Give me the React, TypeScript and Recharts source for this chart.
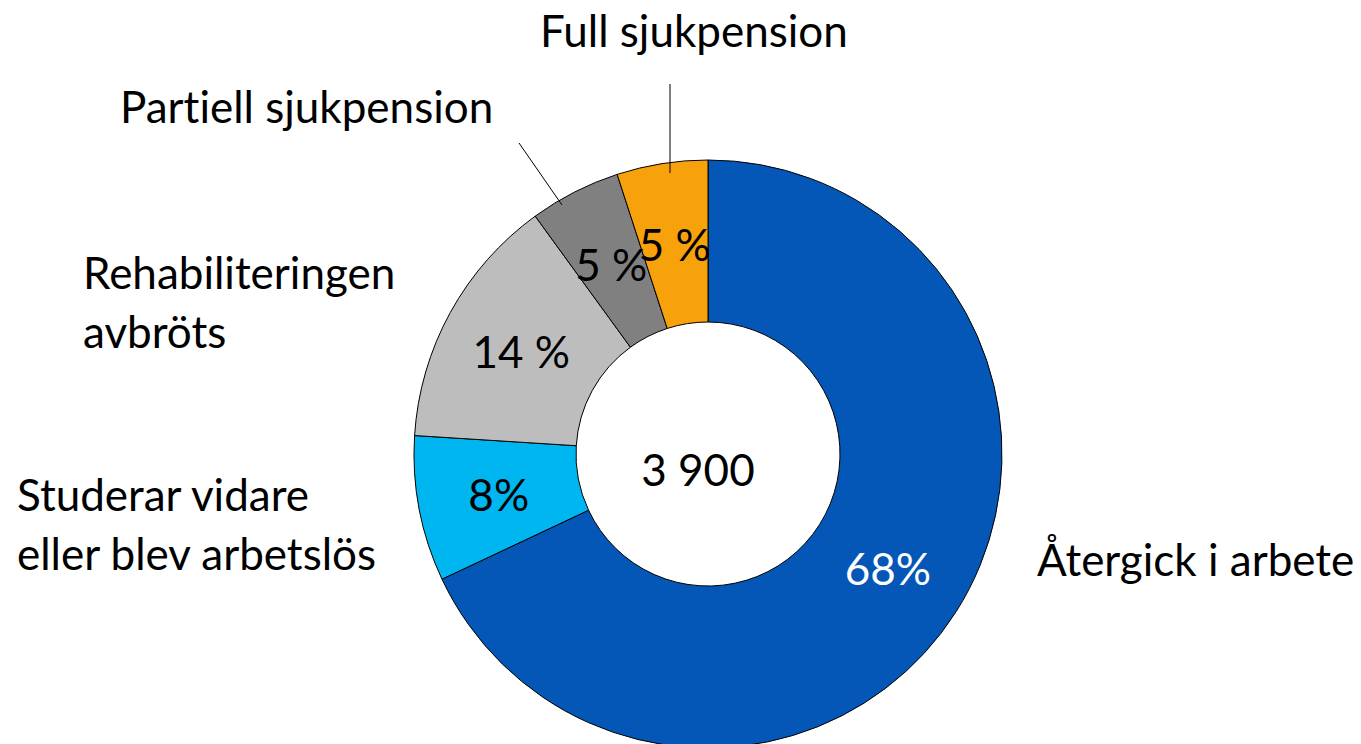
import { PieChart, Pie, Cell } from 'recharts';

// Outcome after rehabilitation, share of all (n = 3 900)
const categories = [
  'Återgick i arbete',
  'Studerar vidare eller blev arbetslös',
  'Rehabiliteringen avbröts',
  'Partiell sjukpension',
  'Full sjukpension',
];
const categoryLines = [
  ['Återgick i arbete'],
  ['Studerar vidare', 'eller blev arbetslös'],
  ['Rehabiliteringen', 'avbröts'],
  ['Partiell sjukpension'],
  ['Full sjukpension'],
];
const shares = [68, 8, 14, 5, 5];
const shareLabels = ['68%', '8%', '14 %', '5 %', '5 %'];
const totalLabel = '3 900';

const COLORS = ['#0457B6', '#00B6F1', '#BDBDBD', '#808080', '#F7A20B'];
const SHARE_TEXT = ['#ffffff', '#000000', '#000000', '#000000', '#000000'];
const FONT = 'Lato, "Open Sans", sans-serif';
const FONT_SIZE = 44;
const LINE_GAP = 59;
const textStyle = { fontVariantLigatures: 'none' as const };

// where each category name sits, relative to the pie centre (text start, first baseline)
const nameOffsets = [
  { dx: 329, dy: 122 },
  { dx: -691, dy: 57 },
  { dx: -625, dy: -165 },
  { dx: -588, dy: -331 },
  { dx: -168, dy: -407 },
];
// leader lines from name to slice, relative to centre
const leaders: ({ x1: number; y1: number; x2: number; y2: number } | null)[] = [
  null,
  null,
  null,
  { x1: -189, y1: -311, x2: -146, y2: -249 },
  { x1: -38, y1: -370, x2: -38, y2: -281 },
];

const data = categories.map((name, i) => ({ name, value: shares[i] }));

const RADIAN = Math.PI / 180;

const renderLabel = (props: any) => {
  const { cx, cy, midAngle, innerRadius, outerRadius, index } = props;
  const r = (innerRadius + outerRadius) / 2;
  const x = cx + r * Math.cos(-midAngle * RADIAN);
  const y = cy + r * Math.sin(-midAngle * RADIAN);
  const pos = nameOffsets[index];
  const lead = leaders[index];
  return (
    <g>
      <text
        x={x}
        y={y}
        textAnchor="middle"
        dominantBaseline="central"
        fill={SHARE_TEXT[index]}
        fontSize={FONT_SIZE}
        fontFamily={FONT}
        style={textStyle}
      >
        {shareLabels[index]}
      </text>
      <text x={cx + pos.dx} y={cy + pos.dy} fill="#000" fontSize={FONT_SIZE} fontFamily={FONT} style={textStyle}>
        {categoryLines[index].map((line, k) => (
          <tspan key={k} x={cx + pos.dx} dy={k === 0 ? 0 : LINE_GAP}>
            {line}
          </tspan>
        ))}
      </text>
      {lead && (
        <line
          x1={cx + lead.x1}
          y1={cy + lead.y1}
          x2={cx + lead.x2}
          y2={cy + lead.y2}
          stroke="#000"
          strokeWidth={1}
        />
      )}
      {index === 0 && (
        <text
          x={cx - 10}
          y={cy + 15}
          textAnchor="middle"
          dominantBaseline="central"
          fill="#000"
          fontSize={FONT_SIZE}
          fontFamily={FONT}
          style={textStyle}
        >
          {totalLabel}
        </text>
      )}
    </g>
  );
};

export default function App() {
  return (
    <div style={{ position: 'absolute', left: 0, top: 0, width: 1361, height: 744, background: '#fff' }}>
      <PieChart width={1361} height={744} margin={{ top: 0, right: 0, bottom: 0, left: 0 }}>
        <Pie
          data={data}
          dataKey="value"
          nameKey="name"
          cx={708}
          cy={454}
          innerRadius={132}
          outerRadius={294}
          startAngle={90}
          endAngle={-270}
          stroke="#000"
          strokeWidth={1}
          labelLine={false}
          label={renderLabel}
          isAnimationActive={false}
        >
          {data.map((d, i) => (
            <Cell key={d.name} fill={COLORS[i]} />
          ))}
        </Pie>
      </PieChart>
    </div>
  );
}
